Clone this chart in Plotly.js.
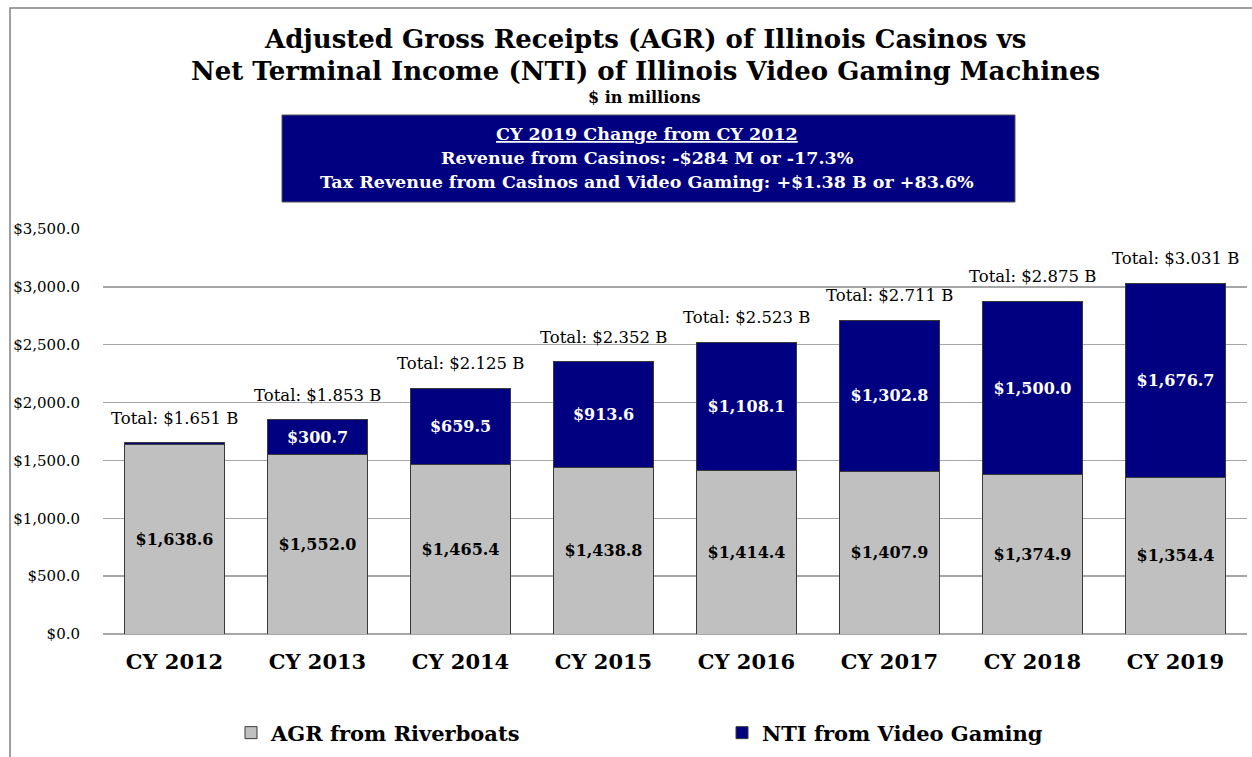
<!DOCTYPE html>
<html>
<head>
<meta charset="utf-8">
<script src="https://cdn.plot.ly/plotly-3.0.1.min.js"></script>
<style>html,body{margin:0;padding:0;background:#fff;}#chart{width:1252px;height:757px;}</style>
</head>
<body>
<div id="chart"></div>
<script>
// ---- data ----
const categories = ["CY 2012","CY 2013","CY 2014","CY 2015","CY 2016","CY 2017","CY 2018","CY 2019"];
const agrRiverboats = [1638.6, 1552.0, 1465.4, 1438.8, 1414.4, 1407.9, 1374.9, 1354.4];
const ntiVideoGaming = [12.4, 300.7, 659.5, 913.6, 1108.1, 1302.8, 1500.0, 1676.7];
const totalValues = [1651, 1853, 2125, 2352, 2523, 2711, 2875, 3031];
const totalLabels = ["Total: $1.651 B","Total: $1.853 B","Total: $2.125 B","Total: $2.352 B","Total: $2.523 B","Total: $2.711 B","Total: $2.875 B","Total: $3.031 B"];
const titleLines = ["Adjusted Gross Receipts (AGR) of Illinois Casinos vs","Net Terminal Income (NTI) of Illinois Video Gaming Machines"];
const subtitle = "$ in millions";
const boxLines = ["<u>CY 2019 Change from CY 2012</u>","Revenue from Casinos: -$284 M or -17.3%","Tax Revenue from Casinos and Video Gaming: +$1.38 B or +83.6%"];

// ---- layout helpers (pixel -> paper) ----
const W = 1252, H = 757;
const L = 103, R = 5, T = 229, B = 123;
const pw = W - L - R, ph = H - T - B;
const px = x => (x - L) / pw;
const py = y => (H - B - y) / ph;

const serif = "DejaVu Serif, Liberation Serif, serif";

const traces = [
  {
    type: "bar", name: "AGR from Riverboats", x: categories, y: agrRiverboats,
    marker: {color: "#c0c0c0", line: {color: "#3a3a3a", width: 1}},
    texttemplate: "$%{y:,.1f}", textposition: "inside", insidetextanchor: "middle",
    textfont: {family: serif, size: 16, color: "#000", weight: "bold"},
    hoverinfo: "skip", legend: "legend"
  },
  {
    type: "bar", name: "NTI from Video Gaming", x: categories, y: ntiVideoGaming,
    marker: {color: "#000080", line: {color: "#3a3a3a", width: 1}},
    texttemplate: "$%{y:,.1f}", textposition: "inside", insidetextanchor: "middle",
    textfont: {family: serif, size: 16, color: "#fff", weight: "bold"},
    hoverinfo: "skip", legend: "legend2"
  }
];

const annotations = [];
categories.forEach((c, i) => {
  annotations.push({
    x: c, y: totalValues[i], xref: "x", yref: "y", text: totalLabels[i],
    showarrow: false, xanchor: "center", yanchor: "bottom", yshift: 13,
    font: {family: serif, size: 16.5, color: "#000"}
  });
});
function paperText(t, x, y, size, color) {
  annotations.push({x: px(x), y: py(y), xref: "paper", yref: "paper", text: t, showarrow: false,
    xanchor: "center", yanchor: "middle",
    font: {family: serif, size: size, color: color, weight: "bold"}});
}
paperText(titleLines[0], 645, 39, 26, "#000");
paperText(titleLines[1], 645, 71, 26, "#000");
paperText(subtitle, 644, 98, 16, "#000");
const boxY = [134, 158, 182];
boxLines.forEach((t, i) => paperText(t, 647, boxY[i], 17.5, "#fff"));

const shapes = [
  {type: "rect", xref: "paper", yref: "paper", x0: px(10), x1: px(1300), y0: py(8), y1: py(800),
    line: {color: "#808080", width: 1.5}, fillcolor: "rgba(0,0,0,0)", layer: "below"},
  {type: "rect", xref: "paper", yref: "paper", x0: px(282), x1: px(1015), y0: py(115), y1: py(202),
    line: {color: "#555555", width: 1}, fillcolor: "#000080", layer: "above"}
];

const legendFont = {family: serif, size: 21, color: "#000", weight: "bold"};
const layout = {
  width: W, height: H,
  margin: {l: L, r: R, t: T, b: B, pad: 0, autoexpand: false},
  paper_bgcolor: "#fff", plot_bgcolor: "#fff",
  barmode: "stack", bargap: 0.3,
  showlegend: true,
  legend: {orientation: "h", x: px(231), xanchor: "left", y: py(733), yanchor: "middle",
    font: legendFont, bgcolor: "rgba(0,0,0,0)"},
  legend2: {orientation: "h", x: px(722), xanchor: "left", y: py(733), yanchor: "middle",
    font: legendFont, bgcolor: "rgba(0,0,0,0)"},
  uniformtext: {mode: "hide", minsize: 12},
  xaxis: {showgrid: false, showline: false, zeroline: false, ticks: "",
    tickfont: {family: serif, size: 21, color: "#000", weight: "bold"}, ticklabelstandoff: 13},
  yaxis: {range: [0, 3500], dtick: 500, tickprefix: "$", tickformat: ",.1f",
    showgrid: true, gridcolor: "#a6a6a6", gridwidth: 1.5, zeroline: true, zerolinecolor: "#a6a6a6", zerolinewidth: 1.5,
    showline: false, ticks: "", ticklabelstandoff: 22,
    tickfont: {family: serif, size: 15, color: "#000"}},
  annotations: annotations,
  shapes: shapes
};

Plotly.newPlot("chart", traces, layout, {staticPlot: true, displayModeBar: false});
</script>
</body>
</html>
